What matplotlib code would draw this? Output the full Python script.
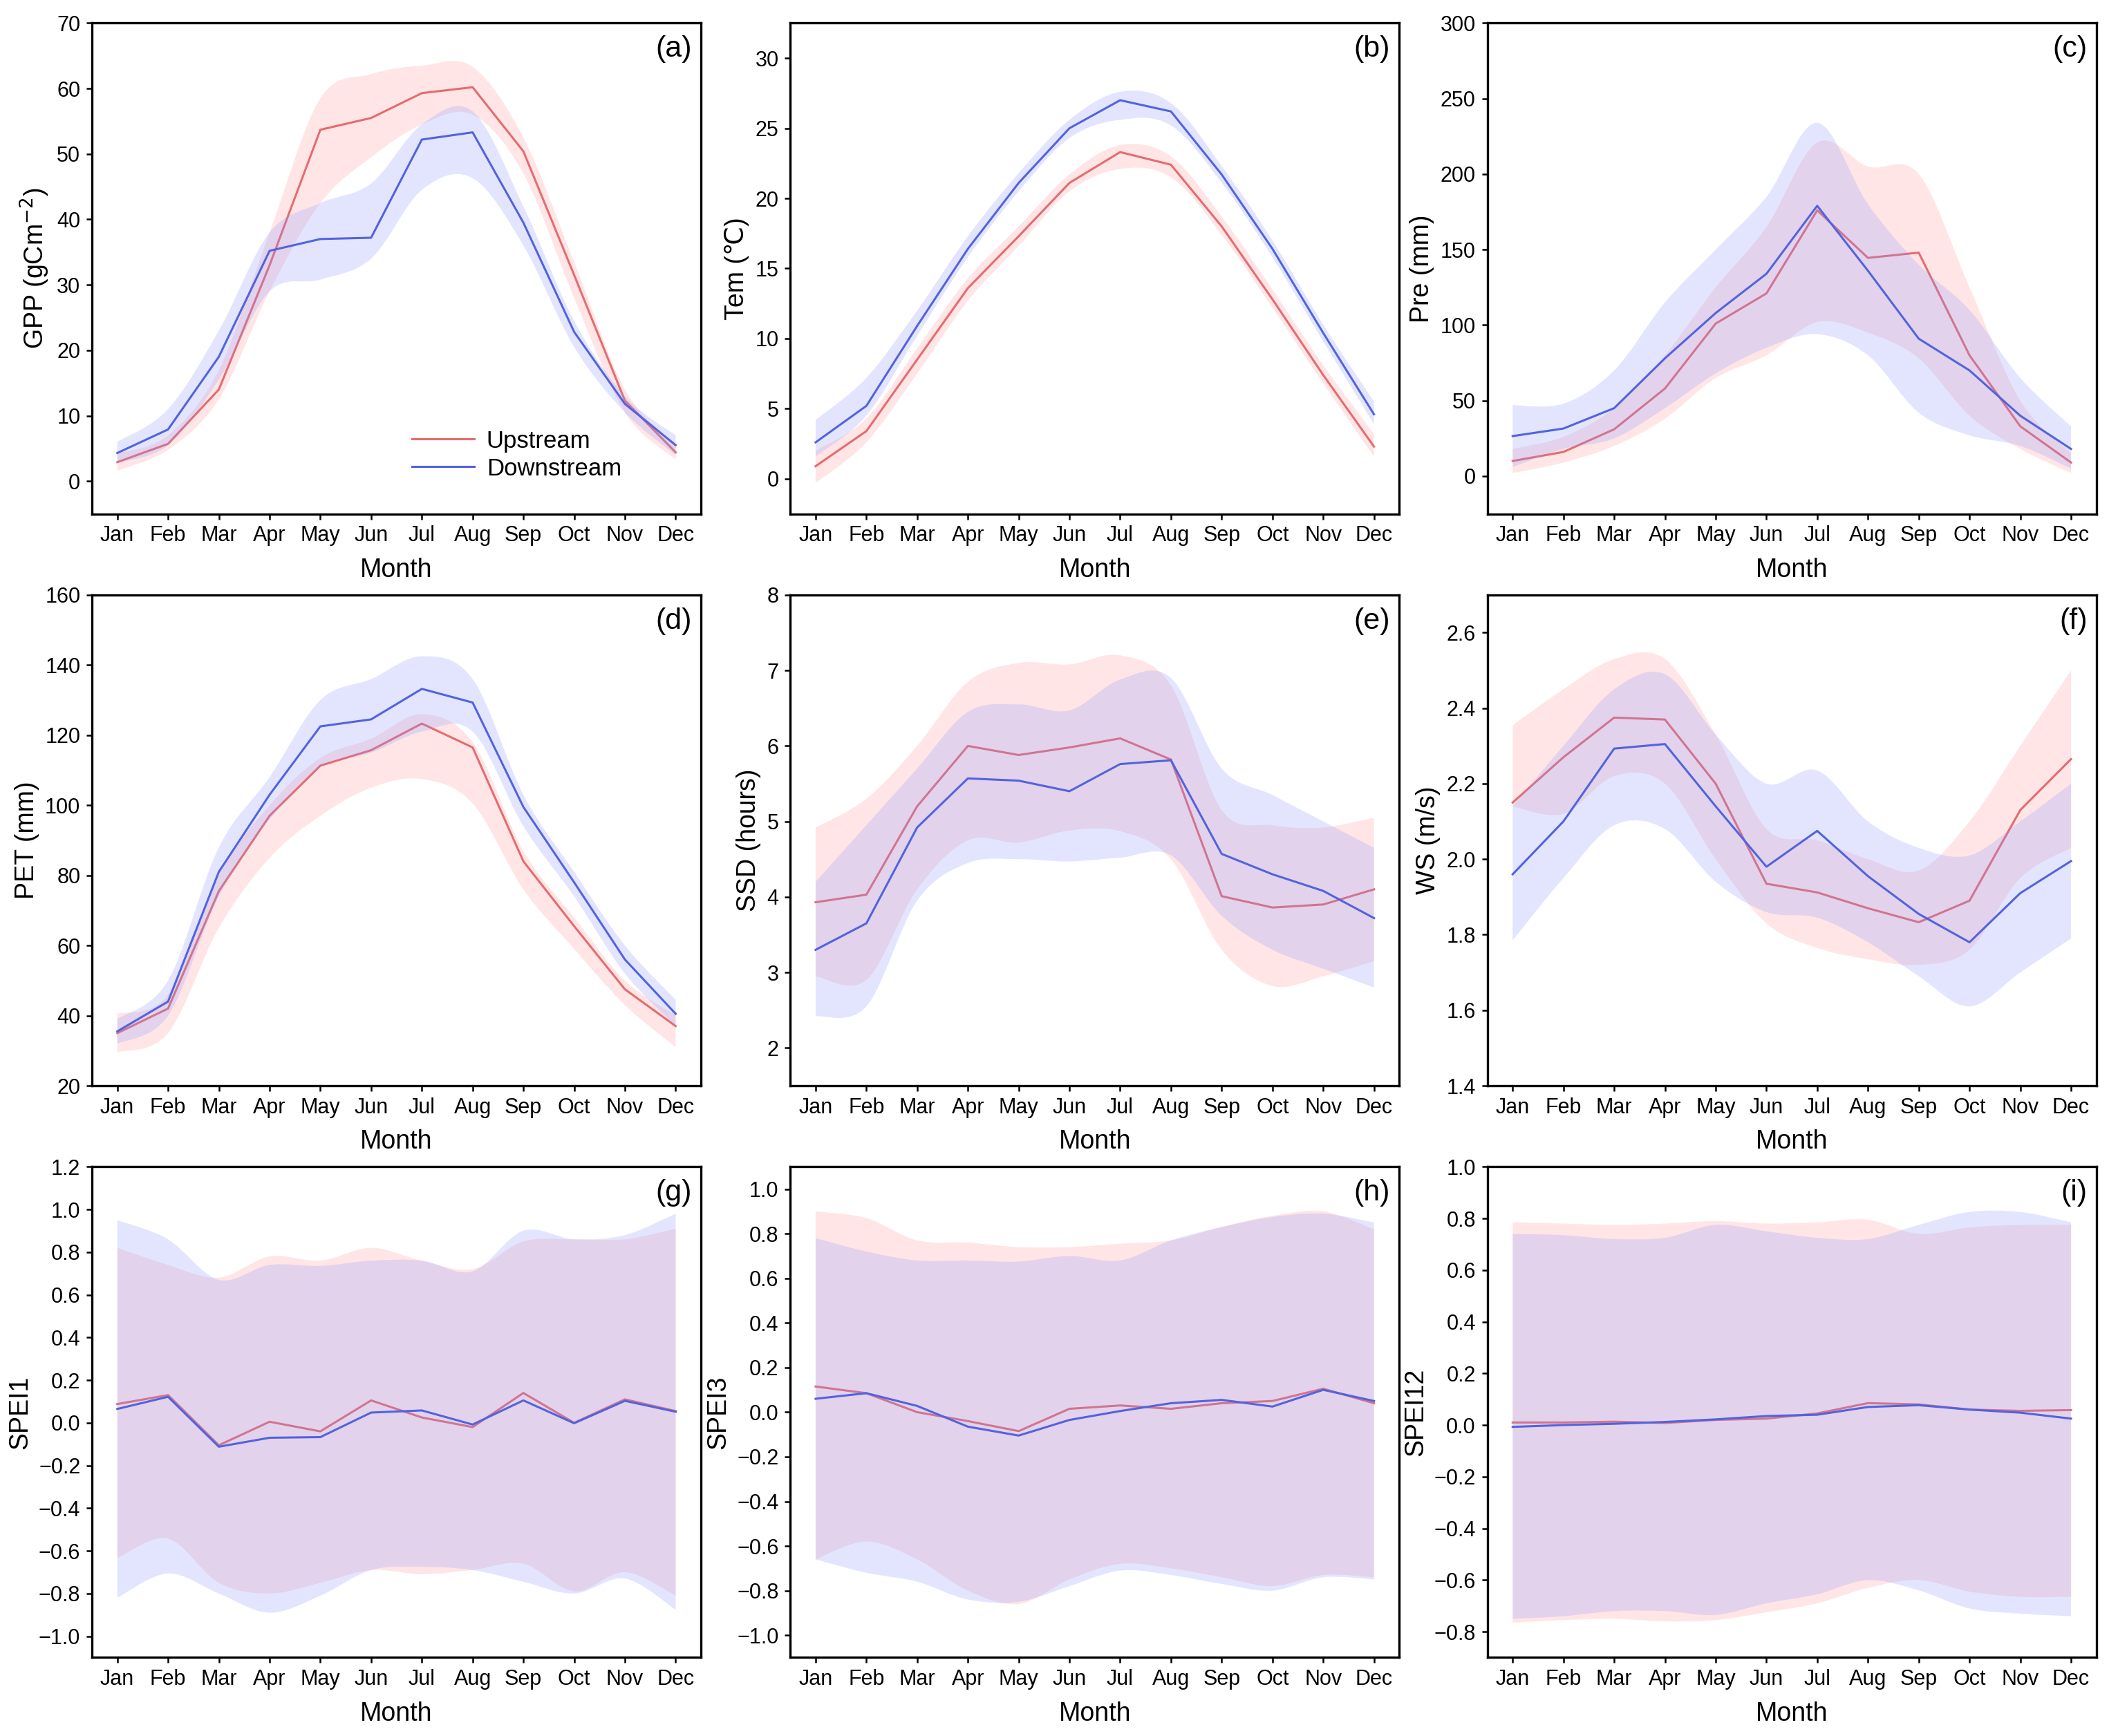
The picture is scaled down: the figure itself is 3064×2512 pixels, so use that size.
import numpy as np
import matplotlib
matplotlib.use('Agg')
from matplotlib import pyplot as plt
from matplotlib.path import Path
from matplotlib.patches import PathPatch
from matplotlib.ticker import FuncFormatter

plt.rcParams['font.family'] = ['Liberation Sans', 'DejaVu Sans']

months = ['Jan', 'Feb', 'Mar', 'Apr', 'May', 'Jun', 'Jul', 'Aug', 'Sep', 'Oct', 'Nov', 'Dec']

# (a) GPP
gpp_up = [2.9, 5.7, 14.0, 33.0, 53.7, 55.5, 59.3, 60.2, 50.4, 31.5, 12.3, 4.4]
gpp_up_hi = [4.2, 7.0, 17.0, 38.0, 58.5, 62.2, 63.5, 63.3, 52.5, 33.5, 14.0, 5.5]
gpp_up_lo = [1.6, 4.8, 12.5, 29.0, 42.5, 49.5, 54.5, 56.0, 47.0, 28.0, 10.5, 3.3]
gpp_dn = [4.3, 7.9, 19.0, 35.2, 37.0, 37.2, 52.2, 53.3, 39.5, 22.8, 11.8, 5.5]
gpp_dn_hi = [6.0, 11.0, 23.0, 38.0, 42.5, 45.5, 54.5, 56.5, 42.0, 24.5, 13.0, 7.0]
gpp_dn_lo = [2.8, 5.5, 15.5, 29.0, 30.8, 34.0, 44.5, 46.3, 36.0, 20.5, 10.5, 4.0]

# (b) Tem
tem_up = [0.9, 3.4, 8.5, 13.6, 17.3, 21.1, 23.3, 22.4, 18.0, 12.8, 7.4, 2.3]
tem_up_hi = [2.0, 4.3, 9.3, 14.3, 18.0, 21.7, 23.8, 23.0, 18.7, 13.5, 8.1, 3.2]
tem_up_lo = [-0.3, 2.6, 7.5, 12.7, 16.6, 20.5, 22.1, 21.5, 17.4, 12.2, 6.8, 1.6]
tem_dn = [2.6, 5.2, 10.9, 16.4, 21.1, 25.0, 27.0, 26.2, 21.7, 16.4, 10.4, 4.6]
tem_dn_hi = [4.2, 7.2, 12.0, 17.3, 21.8, 25.6, 27.6, 26.8, 22.3, 17.0, 11.0, 5.5]
tem_dn_lo = [1.6, 4.5, 10.2, 15.8, 20.5, 24.3, 25.6, 25.2, 21.1, 15.8, 9.8, 3.9]

# (c) Pre
pre_up = [10, 16, 31, 58, 101, 121, 176, 144.5, 148, 80, 33, 9]
pre_up_hi = [18, 26, 45, 80, 125, 165, 221, 205, 200, 125, 50, 15]
pre_up_lo = [2, 9, 20, 38, 65, 80, 102, 95, 78, 40, 18, 2]
pre_dn = [26.5, 31.5, 45, 78, 108, 134, 179, 136, 91, 70, 40, 18]
pre_dn_hi = [47, 48, 70, 115, 150, 185, 234, 180, 140, 110, 65, 33]
pre_dn_lo = [6, 18, 25, 45, 68, 85, 94, 80, 42, 27, 20, 5]

# (d) PET
pet_up = [35, 42, 75.5, 97, 111.3, 115.7, 123.3, 116.5, 84, 65.5, 47.5, 37]
pet_up_hi = [40.5, 46, 80, 100, 113.5, 119, 126, 118, 87, 68, 50, 40]
pet_up_lo = [29.5, 35, 65, 85, 97, 105, 107.5, 100.5, 76, 59, 43, 31]
pet_dn = [35.5, 44, 81, 103, 122.5, 124.5, 133.2, 129.3, 99.5, 78, 56, 40.5]
pet_dn_hi = [39, 50, 88, 108, 130, 136, 142.5, 136, 103, 81, 60, 44.5]
pet_dn_lo = [32, 40, 74, 96, 111, 115, 121, 121, 94, 74, 52, 37]

# (e) SSD
ssd_up = [3.93, 4.03, 5.2, 6.0, 5.88, 5.98, 6.1, 5.82, 4.01, 3.86, 3.9, 4.1]
ssd_up_hi = [4.92, 5.3, 6.0, 6.85, 7.1, 7.08, 7.2, 6.8, 5.15, 4.95, 4.92, 5.05]
ssd_up_lo = [2.95, 2.9, 4.1, 4.75, 4.72, 4.88, 4.87, 4.5, 3.3, 2.82, 2.95, 3.15]
ssd_dn = [3.3, 3.65, 4.92, 5.57, 5.54, 5.4, 5.76, 5.81, 4.57, 4.3, 4.08, 3.72]
ssd_dn_hi = [4.2, 4.95, 5.7, 6.45, 6.55, 6.47, 6.88, 6.9, 5.7, 5.35, 5.0, 4.65]
ssd_dn_lo = [2.42, 2.55, 3.95, 4.45, 4.5, 4.47, 4.52, 4.55, 3.75, 3.3, 3.05, 2.8]

# (f) WS
ws_up = [2.15, 2.27, 2.375, 2.37, 2.2, 1.935, 1.912, 1.87, 1.833, 1.89, 2.13, 2.265]
ws_up_hi = [2.355, 2.45, 2.53, 2.53, 2.33, 2.08, 2.05, 2.0, 1.97, 2.1, 2.3, 2.5]
ws_up_lo = [2.14, 2.12, 2.22, 2.2, 2.0, 1.83, 1.765, 1.735, 1.72, 1.76, 1.95, 2.03]
ws_dn = [1.96, 2.1, 2.293, 2.305, 2.14, 1.98, 2.075, 1.955, 1.855, 1.78, 1.91, 1.995]
ws_dn_hi = [2.14, 2.3, 2.45, 2.49, 2.33, 2.2, 2.235, 2.1, 2.03, 2.01, 2.1, 2.2]
ws_dn_lo = [1.785, 1.95, 2.09, 2.08, 1.94, 1.86, 1.845, 1.78, 1.69, 1.61, 1.7, 1.79]

# (g) SPEI1
spei1_up = [0.088, 0.13, -0.105, 0.005, -0.04, 0.105, 0.025, -0.02, 0.14, 0.0, 0.11, 0.055]
spei1_up_hi = [0.82, 0.74, 0.68, 0.78, 0.76, 0.82, 0.76, 0.72, 0.85, 0.86, 0.86, 0.91]
spei1_up_lo = [-0.634, -0.543, -0.75, -0.80, -0.75, -0.69, -0.71, -0.69, -0.66, -0.79, -0.70, -0.81]
spei1_dn = [0.065, 0.122, -0.112, -0.07, -0.067, 0.048, 0.058, -0.008, 0.105, -0.002, 0.103, 0.052]
spei1_dn_hi = [0.95, 0.86, 0.67, 0.74, 0.735, 0.76, 0.76, 0.71, 0.9, 0.86, 0.88, 0.98]
spei1_dn_lo = [-0.82, -0.706, -0.80, -0.89, -0.81, -0.69, -0.675, -0.69, -0.745, -0.80, -0.73, -0.876]

# (h) SPEI3
spei3_up = [0.115, 0.085, 0.0, -0.04, -0.085, 0.015, 0.03, 0.015, 0.04, 0.05, 0.105, 0.04]
spei3_up_hi = [0.9, 0.87, 0.77, 0.76, 0.74, 0.74, 0.755, 0.77, 0.83, 0.88, 0.9, 0.82]
spei3_up_lo = [-0.66, -0.58, -0.66, -0.80, -0.86, -0.75, -0.68, -0.70, -0.74, -0.78, -0.73, -0.74]
spei3_dn = [0.06, 0.085, 0.028, -0.065, -0.105, -0.035, 0.005, 0.04, 0.055, 0.025, 0.1, 0.05]
spei3_dn_hi = [0.78, 0.72, 0.68, 0.68, 0.675, 0.7, 0.68, 0.77, 0.83, 0.875, 0.89, 0.85]
spei3_dn_lo = [-0.66, -0.72, -0.76, -0.84, -0.85, -0.78, -0.71, -0.73, -0.77, -0.80, -0.74, -0.75]

# (i) SPEI12
spei12_up = [0.01, 0.01, 0.013, 0.008, 0.02, 0.025, 0.045, 0.085, 0.08, 0.06, 0.055, 0.058]
spei12_up_hi = [0.785, 0.78, 0.775, 0.78, 0.79, 0.78, 0.785, 0.795, 0.74, 0.765, 0.775, 0.775]
spei12_up_lo = [-0.765, -0.755, -0.75, -0.76, -0.755, -0.725, -0.69, -0.63, -0.6, -0.645, -0.665, -0.665]
spei12_dn = [-0.007, 0.0, 0.005, 0.012, 0.022, 0.035, 0.04, 0.07, 0.077, 0.06, 0.048, 0.025]
spei12_dn_hi = [0.74, 0.735, 0.72, 0.725, 0.775, 0.75, 0.725, 0.72, 0.775, 0.825, 0.825, 0.785]
spei12_dn_lo = [-0.75, -0.74, -0.72, -0.72, -0.735, -0.69, -0.655, -0.6, -0.64, -0.71, -0.73, -0.74]

RED = '#e56b6f'
BLUE = '#5163df'
RED_FILL = '#ff8c8c'
BLUE_FILL = '#8c96ff'


def smooth_vertices(x, y):
  # catmull-rom through the points, as cubic bezier segments
  pts = np.column_stack([x, y]).astype(float)
  n = len(pts)
  verts = [pts[0]]
  for i in range(n - 1):
    p0 = pts[i - 1] if i > 0 else pts[i]
    p1 = pts[i]
    p2 = pts[i + 1]
    p3 = pts[i + 2] if i + 2 < n else pts[i + 1]
    verts.append(p1 + (p2 - p0) / 6.0)
    verts.append(p2 - (p3 - p1) / 6.0)
    verts.append(p2)
  return verts


def band(ax, x, lo, hi, color, alpha, z):
  up = smooth_vertices(x, hi)
  dn = smooth_vertices(x[::-1], lo[::-1])
  verts = up + dn + [up[0]]
  codes = [Path.MOVETO] + [Path.CURVE4] * (len(up) - 1)
  codes += [Path.LINETO] + [Path.CURVE4] * (len(dn) - 1)
  codes += [Path.CLOSEPOLY]
  patch = PathPatch(Path(verts, codes), facecolor=color, edgecolor='none',
                    alpha=alpha, zorder=z)
  ax.add_patch(patch)


def minus_fmt(dec):
  def f(v, pos):
    s = ('%.' + str(dec) + 'f') % v
    if s.startswith('-'):
      s = '\u2212' + s[1:]
    if s == '\u22120.0':
      s = '0.0'
    return s
  return FuncFormatter(f)


panels = [
  ('(a)', 'GPP (gCm$^{-2}$)', gpp_up, gpp_up_lo, gpp_up_hi, gpp_dn, gpp_dn_lo, gpp_dn_hi,
   (-5, 70), np.arange(0, 71, 10), 0),
  ('(b)', 'Tem (\u2103)', tem_up, tem_up_lo, tem_up_hi, tem_dn, tem_dn_lo, tem_dn_hi,
   (-2.5, 32.5), np.arange(0, 31, 5), 0),
  ('(c)', 'Pre (mm)', pre_up, pre_up_lo, pre_up_hi, pre_dn, pre_dn_lo, pre_dn_hi,
   (-25, 300), np.arange(0, 301, 50), 0),
  ('(d)', 'PET (mm)', pet_up, pet_up_lo, pet_up_hi, pet_dn, pet_dn_lo, pet_dn_hi,
   (20, 160), np.arange(20, 161, 20), 0),
  ('(e)', 'SSD (hours)', ssd_up, ssd_up_lo, ssd_up_hi, ssd_dn, ssd_dn_lo, ssd_dn_hi,
   (1.5, 8), np.arange(2, 9, 1), 0),
  ('(f)', 'WS (m/s)', ws_up, ws_up_lo, ws_up_hi, ws_dn, ws_dn_lo, ws_dn_hi,
   (1.4, 2.7), np.arange(1.4, 2.61, 0.2), 1),
  ('(g)', 'SPEI1', spei1_up, spei1_up_lo, spei1_up_hi, spei1_dn, spei1_dn_lo, spei1_dn_hi,
   (-1.1, 1.2), np.arange(-1.0, 1.21, 0.2), 1),
  ('(h)', 'SPEI3', spei3_up, spei3_up_lo, spei3_up_hi, spei3_dn, spei3_dn_lo, spei3_dn_hi,
   (-1.1, 1.1), np.arange(-1.0, 1.01, 0.2), 1),
  ('(i)', 'SPEI12', spei12_up, spei12_up_lo, spei12_up_hi, spei12_dn, spei12_dn_lo, spei12_dn_hi,
   (-0.9, 1.0), np.arange(-0.8, 1.01, 0.2), 1),
]

fig = plt.figure(figsize=(15.32, 12.56), dpi=200)
lefts = [0.0434, 0.3731, 0.7022]
bottoms = [0.7040, 0.3746, 0.0452]
w, h = 0.2876, 0.2827
x = np.arange(1, 13)

for k, p in enumerate(panels):
  tag, ylab, up, up_lo, up_hi, dn, dn_lo, dn_hi, ylim, yticks, dec = p
  ax = fig.add_axes([lefts[k % 3], bottoms[k // 3], w, h])
  # red band, red line, then blue band on top of them, then blue line
  band(ax, x, np.array(up_lo), np.array(up_hi), RED_FILL, 0.22, 1)
  ax.plot(x, up, color=RED, lw=1.1, zorder=2, label='Upstream')
  band(ax, x, np.array(dn_lo), np.array(dn_hi), BLUE_FILL, 0.24, 3)
  ax.plot(x, dn, color=BLUE, lw=1.1, zorder=4, label='Downstream')

  ax.set_xlim(0.5, 12.5)
  ax.set_ylim(*ylim)
  ax.set_xticks(x)
  ax.set_xticklabels(months)
  ax.set_yticks(yticks)
  if dec:
    ax.yaxis.set_major_formatter(minus_fmt(dec))
  ax.tick_params(direction='out', length=3, width=0.9, labelsize=11, pad=3)
  for s in ax.spines.values():
    s.set_linewidth(1.2)
  ax.set_xlabel('Month', fontsize=13.5, labelpad=6)
  ax.set_ylabel(ylab, fontsize=13.5, labelpad=3)
  ax.text(0.985, 0.975, tag, transform=ax.transAxes, ha='right', va='top', fontsize=15.5)

  if k == 0:
    ax.legend(loc='lower left', bbox_to_anchor=(0.49, 0.025), frameon=False,
              fontsize=12.5, handlelength=2.6, labelspacing=0.2, handletextpad=0.5)

fig.savefig('out.png', dpi=200)
